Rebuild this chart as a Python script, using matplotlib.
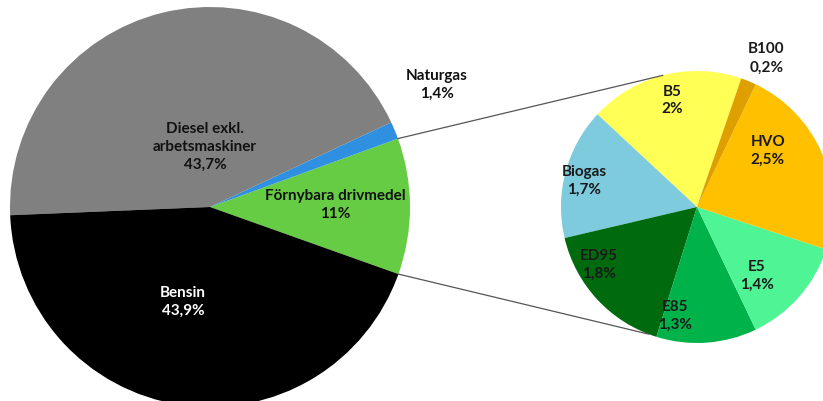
import numpy as np
import matplotlib.pyplot as plt

# main pie
main_names = ["Förnybara drivmedel", "Naturgas", "Diesel exkl.\narbetsmaskiner", "Bensin"]
main_values = [11.0, 1.4, 43.7, 43.9]
main_pct = ["11%", "1,4%", "43,7%", "43,9%"]

# second pie (breakdown of Förnybara drivmedel)
sub_names = ["B5", "Biogas", "ED95", "E85", "E5", "HVO", "B100"]
sub_values = [2.0, 1.7, 1.8, 1.3, 1.4, 2.5, 0.2]
sub_pct = ["2%", "1,7%", "1,8%", "1,3%", "1,4%", "2,5%", "0,2%"]

main_colors = ["#66cc44", "#2f8fe0", "#808080", "#000000"]
sub_colors = ["#ffff55", "#7ecbde", "#006b0e", "#00b24a", "#4ff595", "#ffc000", "#dda000"]

W, H = 823, 402
fig = plt.figure(figsize=(W / 100, H / 100), dpi=100)
ax = fig.add_axes([0, 0, 1, 1])

plt.rcParams["font.family"] = ["Lato", "DejaVu Sans"]

c1, r1 = (210, H - 208), 200
c2, r2 = (697, H - 208), 136

w1, _ = ax.pie(main_values, colors=main_colors, startangle=-19.6, counterclock=True,
               center=c1, radius=r1, frame=True)
w2, _ = ax.pie(sub_values, colors=sub_colors, startangle=71, counterclock=True,
               center=c2, radius=r2, frame=True)
ax.set_xlim(0, W)
ax.set_ylim(0, H)
ax.set_aspect("equal")
ax.axis("off")

# label offsets relative to pie centre, in radius units
main_off = [(0.625, 0.015), (1.135, 0.615), (-0.025, 0.305), (-0.135, -0.47)]
main_tc = ["#111111", "#111111", "#111111", "white"]
for name, pct, (dx, dy), tc in zip(main_names, main_pct, main_off, main_tc):
    ax.text(c1[0] + dx * r1, c1[1] + dy * r1, name + "\n" + pct, ha="center", va="center",
            fontsize=11, fontweight="bold", color=tc, linespacing=1.35)

sub_off = [(-0.18, 0.79), (-0.83, 0.20), (-0.72, -0.42), (-0.16, -0.79),
           (0.44, -0.50), (0.52, 0.42), (0.51, 1.10)]
for name, pct, (dx, dy) in zip(sub_names, sub_pct, sub_off):
    ax.text(c2[0] + dx * r2, c2[1] + dy * r2, name + "\n" + pct, ha="center", va="center",
            fontsize=11, fontweight="bold", color="#1a1a1a", linespacing=1.35)

# connector lines from Förnybara wedge to second pie
fw = w1[0]
for a1, a2 in [(fw.theta2, 104.6), (fw.theta1, -110.8)]:
    p1 = (c1[0] + r1 * np.cos(np.radians(a1)), c1[1] + r1 * np.sin(np.radians(a1)))
    p2 = (c2[0] + r2 * np.cos(np.radians(a2)), c2[1] + r2 * np.sin(np.radians(a2)))
    ax.plot([p1[0], p2[0]], [p1[1], p2[1]], color="#555555", lw=0.9)

fig.savefig("out.png", dpi=100)
